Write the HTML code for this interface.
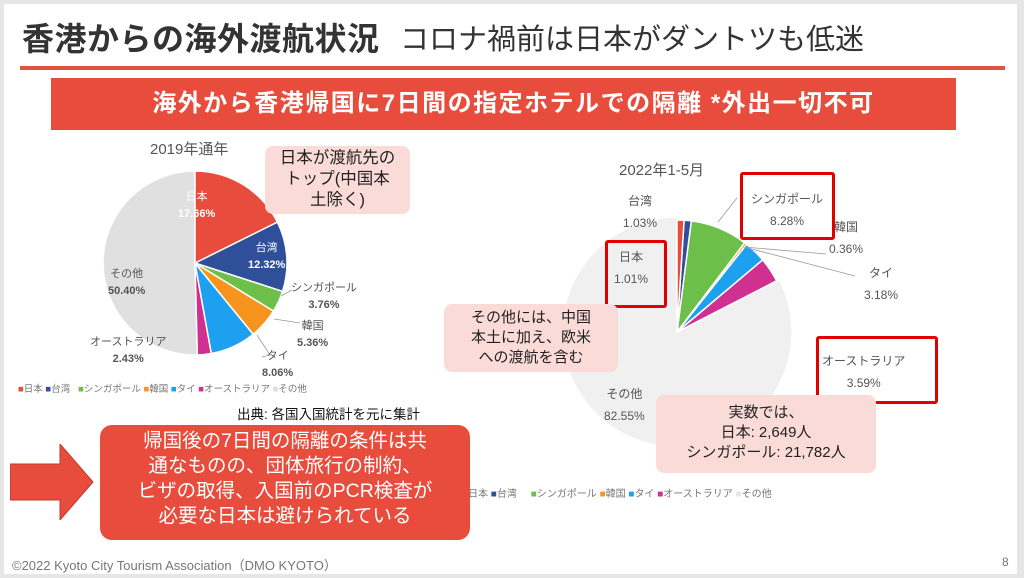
<!DOCTYPE html>
<html><head><meta charset="utf-8"><style>
*{margin:0;padding:0;box-sizing:border-box}
body{width:1024px;height:578px;background:#e6e6e6;position:relative;overflow:hidden;font-family:"Liberation Sans","Noto Sans CJK JP",sans-serif}
.slide{position:absolute;left:4px;top:4px;width:1013px;height:570px;background:#fff}
.a{position:absolute;white-space:nowrap}
.g{color:#555;font-size:11px;text-align:center;line-height:17px}
.pink{position:absolute;background:#fadbd8;border-radius:8px;text-align:center;color:#222}
.rb{position:absolute;border:3px solid #e00000;border-radius:3px}
</style></head><body>
<div class="slide"></div>
<div class="a" style="left:22px;top:14px;font-size:32px;font-weight:bold;color:#333;letter-spacing:0.5px">香港からの海外渡航状況</div>
<div class="a" style="left:400px;top:16px;font-size:29px;color:#333">コロナ禍前は日本がダントツも低迷</div>
<div class="a" style="left:20px;top:66px;width:985px;height:4px;background:#e0533f"></div>
<div class="a" style="left:51px;top:78px;width:905px;height:52px;background:#e84c3d;color:#fff;font-size:24px;font-weight:bold;text-align:center;line-height:52px;letter-spacing:1.5px;padding-left:20px">海外から香港帰国に7日間の指定ホテルでの隔離 *外出一切不可</div>

<svg class="a" style="left:0;top:0" width="1024" height="578" id="sv">
<g stroke="#999" stroke-width="0.8" fill="none">
<polyline points="281,296 292,290"/>
<polyline points="274,319 300,323"/>
<polyline points="257,335 270,355 262,357"/>
<polyline points="718,222 737,198"/>
<polyline points="744,247 826,254"/>
<polyline points="748,248 855,276"/>
</g>
</svg>

<div class="a" style="left:150px;top:138px;font-size:15px;color:#555">2019年通年</div>
<div class="pink" style="left:265px;top:146px;width:145px;height:68px;font-size:16.5px;line-height:21px;padding-top:2px">日本が渡航先の<br>トップ(中国本<br>土除く)</div>
<div class="a g" style="left:178px;top:189px;color:#fff">日本<br><b>17.66%</b></div>
<div class="a g" style="left:248px;top:240px;color:#fff">台湾<br><b>12.32%</b></div>
<div class="a g" style="left:108px;top:266px">その他<br><b>50.40%</b></div>
<div class="a g" style="left:291px;top:280px">シンガポール<br><b>3.76%</b></div>
<div class="a g" style="left:297px;top:318px">韓国<br><b>5.36%</b></div>
<div class="a g" style="left:262px;top:348px">タイ<br><b>8.06%</b></div>
<div class="a g" style="left:90px;top:334px">オーストラリア<br><b>2.43%</b></div>
<div class="a" style="left:18px;top:381px;font-size:9.5px;color:#777">
<span style="color:#e84c3d">■</span>日本 <span style="color:#2f4f9a">■</span>台湾 &nbsp; <span style="color:#6cc04a">■</span>シンガポール <span style="color:#f7941d">■</span>韓国 <span style="color:#1ea0f0">■</span>タイ <span style="color:#d0308f">■</span>オーストラリア <span style="color:#ddd">■</span>その他</div>
<div class="a" style="left:237px;top:403px;font-size:13.5px;color:#111">出典: 各国入国統計を元に集計</div>

<div class="a" style="left:619px;top:159px;font-size:15px;color:#555">2022年1-5月</div>
<div class="a g" style="left:623px;top:190px;font-size:12px;line-height:22px">台湾<br>1.03%</div>
<div class="a g" style="left:742px;top:188px;width:90px;font-size:12px;line-height:22px">シンガポール<br>8.28%</div>
<div class="a g" style="left:829px;top:216px;font-size:12px;line-height:22px">韓国<br>0.36%</div>
<div class="a g" style="left:864px;top:262px;font-size:12px;line-height:22px">タイ<br>3.18%</div>
<div class="a g" style="left:614px;top:246px;font-size:12px;line-height:22px">日本<br>1.01%</div>
<div class="a g" style="left:822px;top:350px;font-size:12px;line-height:22px">オーストラリア<br>3.59%</div>
<div class="a g" style="left:604px;top:383px;font-size:12px;line-height:22px">その他<br>82.55%</div>
<div class="rb" style="left:740px;top:172px;width:95px;height:68px"></div>
<div class="rb" style="left:605px;top:240px;width:62px;height:68px"></div>
<div class="rb" style="left:816px;top:336px;width:122px;height:68px"></div>
<div class="pink" style="left:444px;top:304px;width:174px;height:68px;font-size:15px;line-height:20px;padding-top:4px">その他には、中国<br>本土に加え、欧米<br>への渡航を含む</div>
<div class="pink" style="left:656px;top:395px;width:220px;height:78px;font-size:15px;line-height:20px;padding-top:8px">実数では、<br>日本: 2,649人<br>シンガポール: 21,782人</div>
<div class="a" style="left:468px;top:485px;font-size:10px;color:#777">日本 <span style="color:#2f4f9a">■</span>台湾 &nbsp; &nbsp; <span style="color:#6cc04a">■</span>シンガポール <span style="color:#f7941d">■</span>韓国 <span style="color:#1ea0f0">■</span>タイ <span style="color:#d0308f">■</span>オーストラリア <span style="color:#e6e6e6">■</span>その他</div>

<svg class="a" style="left:10px;top:444px" width="85" height="76"><polygon points="0,20 50,20 50,0 83,38 50,76 50,56 0,56" fill="#e84c3d" stroke="#c0392b" stroke-width="1"/></svg>
<div class="a" style="left:100px;top:425px;width:370px;height:115px;background:#e84c3d;border-radius:12px;color:#fff;font-size:19.5px;line-height:25px;text-align:center;padding-top:4px">帰国後の7日間の隔離の条件は共<br>通なものの、団体旅行の制約、<br>ビザの取得、入国前のPCR検査が<br>必要な日本は避けられている</div>
<div class="a" style="left:12px;top:555px;font-size:13px;color:#777">©2022 Kyoto City Tourism Association（DMO KYOTO）</div>
<div class="a" style="left:1002px;top:555px;font-size:12px;color:#777">8</div>

<script>
var sv=document.getElementById('sv');
function pie(cx,cy,r,data,rs){
  var a=0,ns='http://www.w3.org/2000/svg';
  data.forEach(function(d,i){
    var rr=rs?rs[i]:r;
    var a0=a*Math.PI*2/100-Math.PI/2; a+=d[0];
    var a1=a*Math.PI*2/100-Math.PI/2;
    var x0=cx+rr*Math.cos(a0),y0=cy+rr*Math.sin(a0),x1=cx+rr*Math.cos(a1),y1=cy+rr*Math.sin(a1);
    var p=document.createElementNS(ns,'path');
    p.setAttribute('d','M'+cx+','+cy+'L'+x0+','+y0+'A'+rr+','+rr+' 0 '+(d[0]>50?1:0)+' 1 '+x1+','+y1+'Z');
    p.setAttribute('fill',d[1]);p.setAttribute('stroke','#fff');p.setAttribute('stroke-width','1.5');
    sv.insertBefore(p,sv.firstChild);
  });
}
pie(195,263,92,[[17.66,'#e84c3d'],[12.32,'#2f4f9a'],[3.76,'#6cc04a'],[5.36,'#f7941d'],[8.06,'#1ea0f0'],[2.43,'#d0308f'],[50.41,'#e0e0e0']]);
pie(677,332,112,[[1.01,'#e84c3d'],[1.03,'#2f4f9a'],[8.28,'#6cc04a'],[0.36,'#f7941d'],[3.18,'#1ea0f0'],[3.59,'#d0308f'],[82.55,'#f0f0f0']],[112,112,112,112,112,112,115]);
</script>
</body></html>
